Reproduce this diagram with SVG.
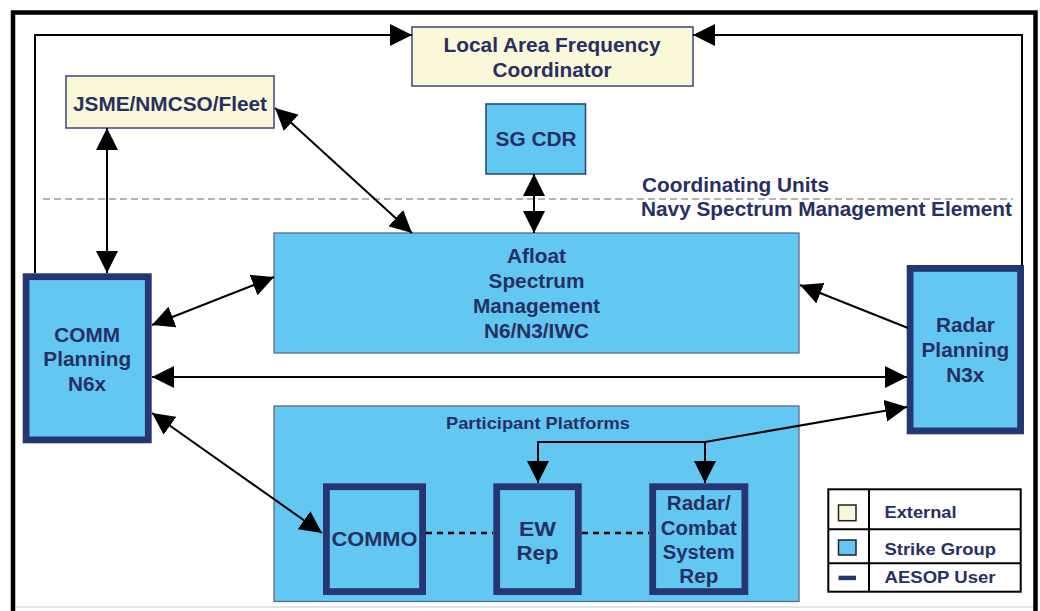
<svg xmlns="http://www.w3.org/2000/svg" width="1040" height="611" viewBox="0 0 1040 611">
<defs>
<style>
.t{font-family:"Liberation Sans",Arial,sans-serif;font-weight:bold;fill:#272f63;font-size:19.5px}
.s{font-size:16.5px}
.ext{fill:#fbf8da;stroke:#4a4e88;stroke-width:1.6}
.sg{fill:#62c8f1;stroke:#5a6c88;stroke-width:1.3}
.au{fill:#62c8f1;stroke:#263673;stroke-width:6.8}
.c{fill:none;stroke:#000;stroke-width:2}
.d{fill:none;stroke:#000;stroke-width:2.5;stroke-dasharray:6 5}
</style>
<marker id="a" viewBox="0 0 22 22" refX="22" refY="11" markerWidth="22" markerHeight="22" markerUnits="userSpaceOnUse" orient="auto-start-reverse">
<path d="M0,0 L22,11 L0,22 z" fill="#000"/>
</marker>
</defs>
<rect width="1040" height="611" fill="#fff"/>
<g id="frame">
<path d="M13,611 V12.5 H1035.5 V611" fill="none" stroke="#000" stroke-width="4.5"/>
<line x1="15" y1="607" x2="1033" y2="607" stroke="#c8c8c8" stroke-width="1"/>
<line x1="43" y1="199" x2="1013" y2="199" stroke="#a39a98" stroke-width="1.5" stroke-dasharray="7 4"/>
<text class="t" x="642" y="192" textLength="187" lengthAdjust="spacingAndGlyphs">Coordinating Units</text>
<text class="t" x="641" y="216" textLength="371" lengthAdjust="spacingAndGlyphs">Navy Spectrum Management Element</text>
</g>
<g id="lafc">
<rect class="ext" x="412" y="27" width="281" height="59"/>
<text class="t" x="443.5" y="52" textLength="217" lengthAdjust="spacingAndGlyphs">Local Area Frequency</text>
<text class="t" x="492.5" y="77" textLength="119" lengthAdjust="spacingAndGlyphs">Coordinator</text>
</g>
<g id="jsme">
<rect class="ext" x="66" y="76" width="208" height="52"/>
<text class="t" x="73" y="111" textLength="194" lengthAdjust="spacingAndGlyphs">JSME/NMCSO/Fleet</text>
</g>
<g id="sgcdr">
<rect class="sg" x="486" y="104" width="99.5" height="70" style="stroke:#2f4a80;stroke-width:1.6"/>
<text class="t" x="495.5" y="146" textLength="81" lengthAdjust="spacingAndGlyphs">SG CDR</text>
</g>
<g id="afloat">
<rect class="sg" x="274" y="233" width="525" height="120"/>
<text class="t" x="507" y="263" textLength="59" lengthAdjust="spacingAndGlyphs">Afloat</text>
<text class="t" x="488.5" y="288" textLength="96" lengthAdjust="spacingAndGlyphs">Spectrum</text>
<text class="t" x="473" y="313" textLength="127" lengthAdjust="spacingAndGlyphs">Management</text>
<text class="t" x="484" y="338" textLength="105" lengthAdjust="spacingAndGlyphs">N6/N3/IWC</text>
</g>
<g id="comm">
<rect class="au" x="26.1" y="276.7" width="122.2" height="163.2"/>
<text class="t" x="54.3" y="342" textLength="65.8" lengthAdjust="spacingAndGlyphs">COMM</text>
<text class="t" x="43.3" y="366" textLength="87.8" lengthAdjust="spacingAndGlyphs">Planning</text>
<text class="t" x="68" y="391" textLength="38.1" lengthAdjust="spacingAndGlyphs">N6x</text>
</g>
<g id="radar">
<rect class="au" x="910.1" y="268.4" width="110.5" height="162.5"/>
<text class="t" x="936" y="332" textLength="58.9" lengthAdjust="spacingAndGlyphs">Radar</text>
<text class="t" x="921.5" y="357" textLength="87.8" lengthAdjust="spacingAndGlyphs">Planning</text>
<text class="t" x="946.3" y="382" textLength="38.1" lengthAdjust="spacingAndGlyphs">N3x</text>
</g>
<g id="participants">
<rect class="sg" x="274" y="406" width="525" height="195.5"/>
<text class="t" x="446" y="429" style="font-size:17px" textLength="184" lengthAdjust="spacingAndGlyphs">Participant Platforms</text>
</g>
<g id="commo">
<rect class="au" x="326.4" y="486.7" width="96.2" height="104.9"/>
<text class="t" x="331.5" y="546" textLength="86" lengthAdjust="spacingAndGlyphs">COMMO</text>
</g>
<g id="ew">
<rect class="au" x="496.7" y="486.7" width="81.6" height="104.9"/>
<text class="t" x="519" y="536" textLength="37" lengthAdjust="spacingAndGlyphs">EW</text>
<text class="t" x="516.5" y="560" textLength="42" lengthAdjust="spacingAndGlyphs">Rep</text>
</g>
<g id="radarcombat">
<rect class="au" x="652.7" y="486.7" width="92.2" height="104.9"/>
<text class="t" x="666.8" y="510" textLength="64" lengthAdjust="spacingAndGlyphs">Radar/</text>
<text class="t" x="660.8" y="535" textLength="76" lengthAdjust="spacingAndGlyphs">Combat</text>
<text class="t" x="662.8" y="559" textLength="72" lengthAdjust="spacingAndGlyphs">System</text>
<text class="t" x="679.3" y="583" textLength="39" lengthAdjust="spacingAndGlyphs">Rep</text>
</g>
<g id="legend">
<rect x="828.3" y="489.3" width="192.4" height="102.4" fill="#fff" stroke="#000" stroke-width="2"/>
<line x1="869" y1="489.3" x2="869" y2="591.7" stroke="#000" stroke-width="2"/>
<line x1="828.3" y1="529.3" x2="1020.7" y2="529.3" stroke="#000" stroke-width="2"/>
<line x1="828.3" y1="563.3" x2="1020.7" y2="563.3" stroke="#000" stroke-width="2"/>
<rect x="838.5" y="505" width="17.5" height="15.7" fill="#fbf8da" stroke="#222" stroke-width="1.5"/>
<rect x="838.5" y="540" width="17.5" height="15" fill="#62c8f1" stroke="#222" stroke-width="1.5"/>
<rect x="838.5" y="575.7" width="17.5" height="4.5" fill="#263673"/>
<text class="t s" x="884.5" y="518" textLength="72" lengthAdjust="spacingAndGlyphs">External</text>
<text class="t s" x="884.5" y="555" textLength="111.5" lengthAdjust="spacingAndGlyphs">Strike Group</text>
<text class="t s" x="884.5" y="583" textLength="111" lengthAdjust="spacingAndGlyphs">AESOP User</text>
</g>
<g id="connectors">
<path class="c" d="M35,273 V35 H412" marker-end="url(#a)"/>
<path class="c" d="M1022,266 V35 H693" marker-end="url(#a)"/>
<path class="c" d="M107,128 V273" marker-start="url(#a)" marker-end="url(#a)"/>
<path class="c" d="M275,108 L412,233" marker-start="url(#a)" marker-end="url(#a)"/>
<path class="c" d="M534,174 V233" marker-start="url(#a)" marker-end="url(#a)"/>
<path class="c" d="M152,325 L274,277" marker-start="url(#a)" marker-end="url(#a)"/>
<path class="c" d="M152,377 H907" marker-start="url(#a)" marker-end="url(#a)"/>
<path class="c" d="M908,328 L800,285" marker-end="url(#a)"/>
<path class="c" d="M152,413 L322,533" marker-start="url(#a)" marker-end="url(#a)"/>
<path class="c" d="M705,442 L907,407" marker-end="url(#a)"/>
<path class="c" d="M705,442 H538 V483" marker-end="url(#a)"/>
<path class="c" d="M705,442 V483" marker-end="url(#a)"/>
<path class="d" d="M426,533 H493"/>
<path class="d" d="M582,533 H649"/>
</g>
</svg>
